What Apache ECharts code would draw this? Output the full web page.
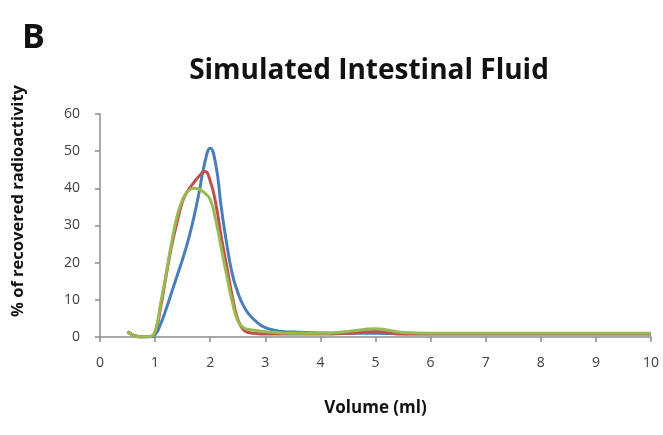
<!DOCTYPE html>
<html>
<head>
<meta charset="utf-8">
<script src="https://cdn.jsdelivr.net/npm/echarts@6/dist/echarts.min.js"></script>
<style>
  html, body { margin: 0; padding: 0; background: #fff; }
  #chart { width: 663px; height: 435px; }
</style>
</head>
<body>
<div id="chart"></div>
<script>
// volume (ml) sampled along the curves
var volume = [0.5, 0.75, 0.9, 1, 1.1, 1.2, 1.3, 1.4, 1.5, 1.6, 1.7, 1.8, 1.9, 2, 2.1, 2.2, 2.3, 2.4, 2.5, 2.6, 2.7, 2.8, 3, 3.3, 3.6, 4, 4.5, 5, 5.5, 6, 7, 8, 9, 10]
var blueSeries = [1.4, 0, 0, 0.6, 3.5, 7.5, 12, 16.5, 21, 26, 32, 39, 46.8, 50.8, 46.5, 35, 25, 17, 12, 8.5, 6.2, 4.6, 2.5, 1.5, 1.3, 1.1, 1, 1, 0.9, 0.9, 0.9, 0.9, 0.9, 0.9]
var redSeries = [1.4, 0, 0.1, 1.3, 8, 16.5, 24.5, 31, 36.5, 39.5, 41.5, 43.3, 44.6, 42, 36, 27, 19, 11, 4.8, 2, 1.2, 1, 0.8, 0.8, 0.8, 0.8, 1, 1.5, 0.8, 0.8, 0.8, 0.8, 0.8, 0.8]
var greenSeries = [1.4, 0, 0.1, 1.5, 9, 17, 25.5, 32.5, 37, 39.3, 40, 39.7, 38.7, 37, 31.5, 24, 16.5, 9.5, 4.4, 2.6, 2, 1.8, 1.4, 1.1, 1, 1, 1.5, 2.2, 1.2, 1, 1, 1, 1, 1]
var xTicks = [0, 10, 1]
var yTicks = [0, 60, 10]

function pairs(ys) {
  return volume.map(function (v, i) { return [v, ys[i]] })
}

var chart = echarts.init(document.getElementById('chart'))
var axisColor = '#8c8c8c'
var labelStyle = { color: '#404040', fontSize: 14, fontFamily: 'Open Sans' }

chart.setOption({
  animation: false,
  title: [
    {
      text: 'B',
      left: 17,
      top: 16,
      textStyle: { fontSize: 34, fontWeight: 'bold', color: '#111', fontFamily: 'Open Sans' }
    },
    {
      text: 'Simulated Intestinal Fluid',
      left: 364,
      textAlign: 'center',
      top: 52,
      textStyle: { fontSize: 28, fontWeight: 'bold', color: '#111', fontFamily: 'Open Sans' }
    }
  ],
  graphic: [
    {
      type: 'text',
      x: 18,
      y: 201,
      rotation: Math.PI / 2,
      style: {
        text: '% of recovered radioactivity',
        fill: '#111',
        font: 'bold 16.5px "Open Sans"',
        align: 'center',
        verticalAlign: 'middle'
      }
    }
  ],
  grid: { left: 100, right: 12, top: 114, bottom: 98 },
  xAxis: {
    type: 'value',
    min: xTicks[0],
    max: xTicks[1],
    interval: xTicks[2],
    name: 'Volume (ml)',
    nameLocation: 'middle',
    nameGap: 63,
    nameTextStyle: { fontSize: 17, fontWeight: 'bold', color: '#111', fontFamily: 'Open Sans' },
    axisLine: { lineStyle: { color: axisColor, width: 1.5 } },
    axisTick: { lineStyle: { color: axisColor, width: 1.5 }, length: 5 },
    axisLabel: Object.assign({ margin: 19 }, labelStyle),
    splitLine: { show: false }
  },
  yAxis: {
    type: 'value',
    min: yTicks[0],
    max: yTicks[1],
    interval: yTicks[2],
    axisLine: { show: true, lineStyle: { color: axisColor, width: 1.5 } },
    axisTick: { show: true, lineStyle: { color: axisColor, width: 1.5 }, length: 5 },
    axisLabel: Object.assign({ margin: 20 }, labelStyle),
    splitLine: { show: false }
  },
  series: [
    {
      type: 'line',
      data: pairs(blueSeries),
      smooth: 0.5,
      showSymbol: false,
      lineStyle: { color: '#4a7ebb', width: 3 }
    },
    {
      type: 'line',
      data: pairs(redSeries),
      smooth: 0.5,
      showSymbol: false,
      lineStyle: { color: '#c0504d', width: 3 }
    },
    {
      type: 'line',
      data: pairs(greenSeries),
      smooth: 0.5,
      showSymbol: false,
      lineStyle: { color: '#98b954', width: 3 }
    }
  ]
})
</script>
</body>
</html>
